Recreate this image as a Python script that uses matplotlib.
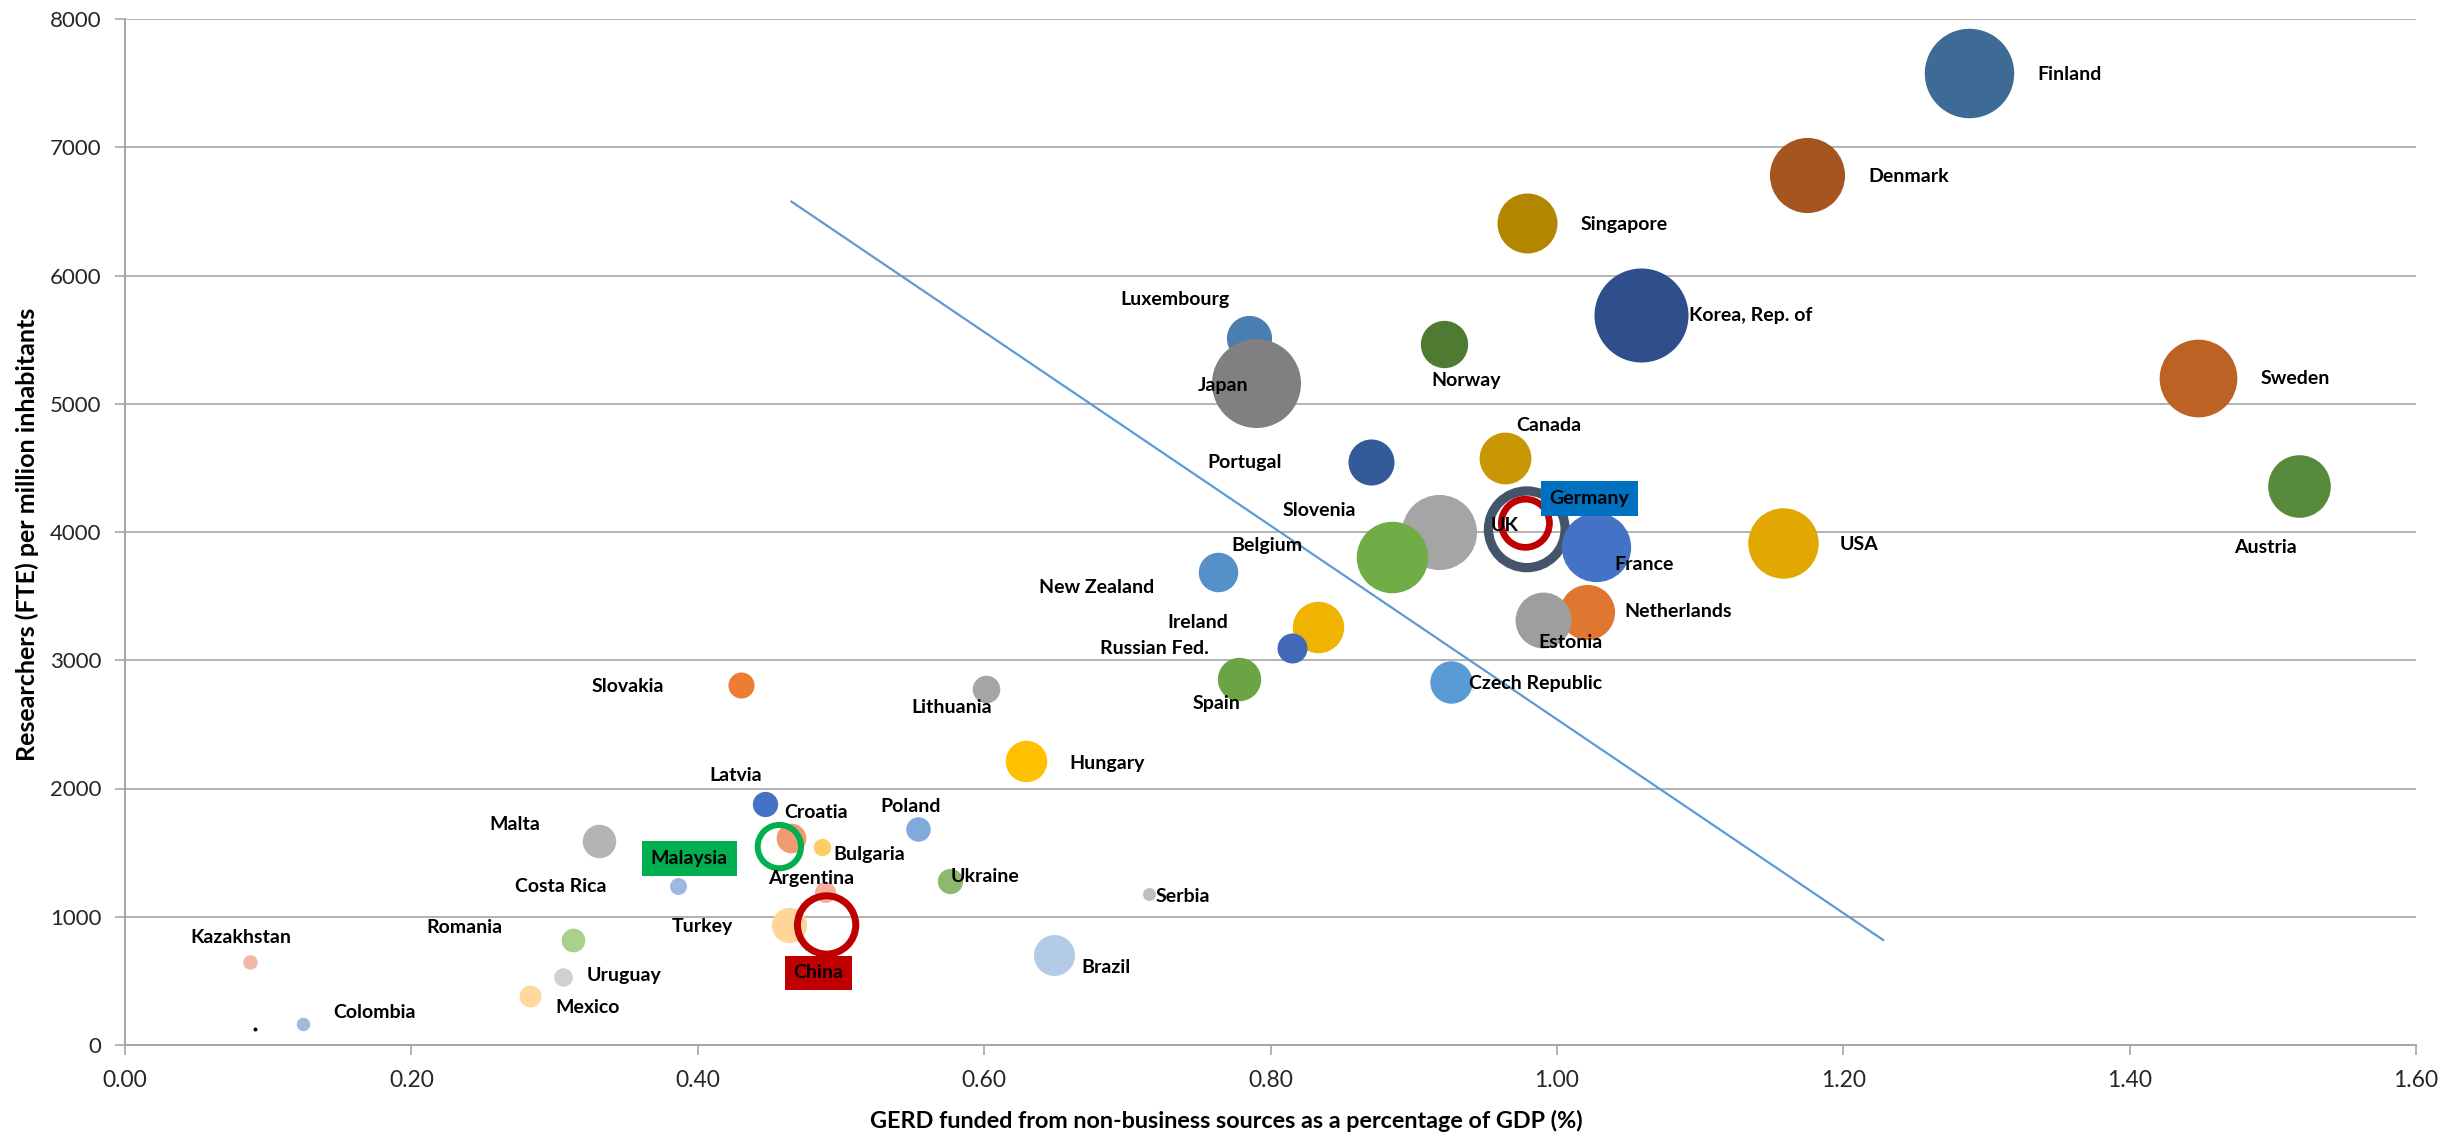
import numpy as np
import matplotlib
matplotlib.use("Agg")
import matplotlib.pyplot as plt

# --- dados ---
countries = ["Finland", "Denmark", "Singapore", "Korea, Rep. of", "Norway", "Sweden", "Austria", "USA",
             "Luxembourg", "Japan", "Portugal", "Canada", "Slovenia", "New Zealand", "UK", "Germany",
             "France", "Netherlands", "Estonia", "Czech Republic", "Belgium", "Ireland", "Russian Fed.",
             "Spain", "Slovakia", "Lithuania", "Hungary", "Latvia", "Croatia", "Malaysia", "Bulgaria",
             "Poland", "Malta", "Costa Rica", "Argentina", "Ukraine", "Turkey", "China", "Brazil",
             "Serbia", "Romania", "Uruguay", "Mexico", "Kazakhstan", "Colombia", ""]
gerd = [1.288, 1.175, 0.979, 1.059, 0.921, 1.448, 1.518, 1.158,
        0.785, 0.790, 0.870, 0.964, 0.918, 0.885, 0.979, 0.978,
        1.027, 1.021, 0.990, 0.926, 0.763, 0.833, 0.815,
        0.778, 0.430, 0.601, 0.629, 0.447, 0.465, 0.457, 0.487,
        0.554, 0.331, 0.386, 0.489, 0.576, 0.464, 0.490, 0.649,
        0.715, 0.313, 0.306, 0.283, 0.087, 0.124, 0.091]
researchers = [7577, 6781, 6407, 5695, 5463, 5203, 4359, 3912,
               5510, 5159, 4548, 4574, 4002, 3807, 4021, 4068,
               3885, 3379, 3314, 2828, 3691, 3262, 3098,
               2854, 2805, 2779, 2217, 1882, 1612, 1547, 1547,
               1682, 1591, 1240, 1193, 1281, 936, 936, 704,
               1175, 816, 533, 380, 645, 164, 125]
# valor da bolha (proporcional à área)
bubble = [200, 141, 90, 221, 56, 151, 98, 124,
          51, 198, 53, 67, 141, 128, 147, 58,
          120, 76, 78, 45, 39, 66, 22.5,
          47, 17, 19, 43, 16, 22, 47, 7.6,
          15, 28, 7.2, 11, 16, 31, 85, 42,
          4.2, 14, 8.6, 12, 5.3, 4.5, 0.4]

# linha de tendência
trend_x = [0.4648, 1.2285]
trend_y = [6581, 814]

# --- estilo ---
colors = ["#3E6B96", "#A65521", "#B38600", "#2E4F8B", "#4E7A31", "#BC6225", "#578A3A", "#E0A800",
          "#4A7DB0", "#808080", "#335A99", "#C99604", "#A5A5A5", "#70AD47", "#44546A", "#C00000",
          "#4472C4", "#E07730", "#9E9E9E", "#5B9BD5", "#5591C8", "#F0B400", "#4169B8",
          "#6AA445", "#ED7D31", "#A5A5A5", "#FFC000", "#4472C4", "#F09A72", "#00B050", "#FFCC66",
          "#7FAADB", "#B4B4B4", "#9DB9E3", "#F4B09A", "#8DB870", "#FFD699", "#C00000", "#B4CBE8",
          "#BFBFBF", "#A9D18E", "#D0D0D0", "#FFD8A0", "#F4B8A8", "#A7B4DD", "#000000"]

# anéis (sem preenchimento): espessura em px
rings = {"UK": 9.3, "Germany": 6.7, "Malaysia": 6.0, "China": 7.0}
# rótulos com caixa colorida
boxed = {"Germany": "#0070C0", "Malaysia": "#00B050", "China": "#C00000"}

# deslocamento dos rótulos (px) em relação ao centro da bolha
offsets = {
    "Finland": (100, -1), "Denmark": (101, -1), "Singapore": (97, -1), "Korea, Rep. of": (109, -1),
    "Norway": (22, -36), "Sweden": (97, -1), "Austria": (-33, -62), "USA": (76, -1),
    "Luxembourg": (-74, 39), "Japan": (-33, -2), "Portugal": (-126, -1), "Canada": (43, 33),
    "Slovenia": (-120, 21), "New Zealand": (-296, -31), "UK": (-22, 4), "Germany": (64, 25),
    "France": (49, -18), "Netherlands": (91, 0), "Estonia": (28, -23), "Czech Republic": (85, -1),
    "Belgium": (49, 26), "Ireland": (-120, 4), "Russian Fed.": (-138, -1), "Spain": (-22, -25),
    "Slovakia": (-113, -1), "Lithuania": (-34, -19), "Hungary": (81, -3), "Latvia": (-29, 28),
    "Croatia": (25, 26), "Malaysia": (-90, -12), "Bulgaria": (47, -8), "Poland": (-8, 23),
    "Malta": (-84, 16), "Costa Rica": (-117, -1), "Argentina": (-14, 13), "Ukraine": (35, 4),
    "Turkey": (-87, -2), "China": (-8, -48), "Brazil": (52, -13), "Serbia": (34, -2),
    "Romania": (-109, 13), "Uruguay": (61, 1), "Mexico": (57, -11), "Kazakhstan": (-9, 25),
    "Colombia": (72, 11),
}

DPI = 100
PX2PT = 72 / DPI
plt.rcParams['font.family'] = ['Lato', 'DejaVu Sans']

fig = plt.figure(figsize=(24.58, 11.35), dpi=DPI)
ax = fig.add_axes([125 / 2458, 1 - 1045 / 1135, 2291 / 2458, 1026 / 1135])

for i, nome in enumerate(countries):
    r_px = np.sqrt(bubble[i] * 10)  # raio em px
    s = (2 * r_px * PX2PT) ** 2
    z = 2 + i * 0.01
    if nome in rings:
        ax.scatter(gerd[i], researchers[i], s=s, facecolors="none", edgecolors=colors[i],
                   linewidths=rings[nome] * PX2PT, zorder=z)
    else:
        ax.scatter(gerd[i], researchers[i], s=s, c=colors[i], linewidths=0, zorder=z)

ax.plot(trend_x, trend_y, color="#5B9BD5", lw=1.6, zorder=5, solid_capstyle="butt")

for i, nome in enumerate(countries):
    if nome not in offsets:
        continue
    dx, dy = offsets[nome]
    bbox = None
    if nome in boxed:
        bbox = dict(boxstyle="square,pad=0.45", fc=boxed[nome], ec="none")
    ax.annotate(nome, (gerd[i], researchers[i]), xytext=(dx, dy), textcoords="offset pixels",
                ha="center", va="center", fontsize=14, fontweight="bold", color="black",
                bbox=bbox, zorder=6)

ax.set_xlim(0, 1.6)
ax.set_ylim(0, 8000)
ax.set_xticks(np.arange(0, 1.61, 0.2))
ax.set_yticks(np.arange(0, 8001, 1000))
ax.set_xticklabels([f"{v:.2f}" for v in np.arange(0, 1.61, 0.2)])
ax.yaxis.grid(True, color="#A6A6A6", lw=1.2, zorder=0)
ax.set_axisbelow(True)
for lado in ["top", "right"]:
    ax.spines[lado].set_visible(False)
for lado in ["left", "bottom"]:
    ax.spines[lado].set_color("#A6A6A6")
    ax.spines[lado].set_linewidth(1.4)
ax.tick_params(axis="both", colors="#A6A6A6", labelcolor="#262626", length=7, width=1.2)
ax.tick_params(axis="x", pad=11, labelsize=16.5)
ax.tick_params(axis="y", pad=10, labelsize=16)

ax.set_xlabel("GERD funded from non-business sources as a percentage of GDP (%)",
              fontsize=16.8, fontweight="bold")
ax.set_ylabel("Researchers (FTE) per million inhabitants", fontsize=18, fontweight="bold")
ax.xaxis.set_label_coords(0.4806, -0.063)
ax.yaxis.set_label_coords(-0.0375, 0.498)

fig.savefig("out.png", dpi=DPI)
